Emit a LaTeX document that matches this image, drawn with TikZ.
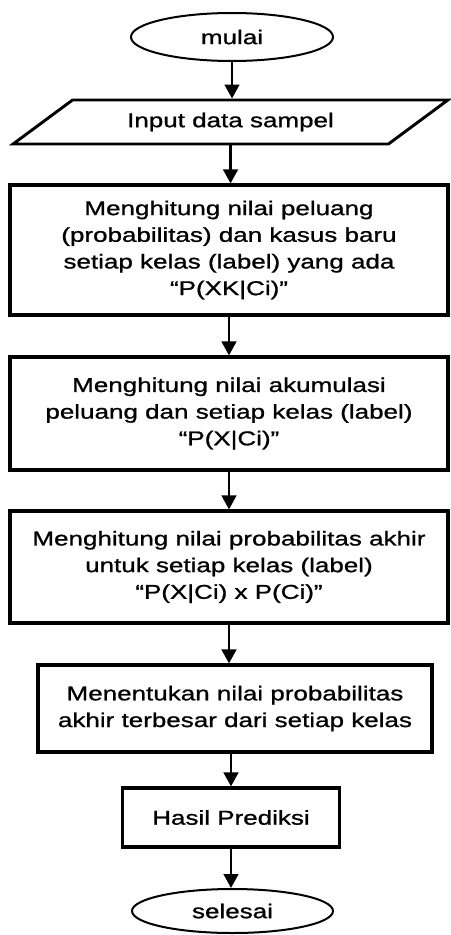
\documentclass[tikz,border=0pt]{standalone}
\usepackage{fontspec}
\setmainfont{Liberation Sans}[FakeStretch=1.3, FakeBold=1]
\usetikzlibrary{shapes.geometric,arrows.meta}

\tikzset{every picture/.style={line width=0.75pt}}
\tikzset{
	terminal/.style={ellipse, draw, line width=1.5pt, inner sep=0pt},
	process/.style={rectangle, draw, line width=2.4pt, align=center, inner sep=0pt},
	io/.style={trapezium, trapezium left angle=25.6, trapezium right angle=154.4, trapezium stretches=true, draw, line width=2.2pt, inner sep=0pt},
	flow/.style={line width=2pt, -{Triangle[width=11pt,length=10.5pt]}},
	every node/.style={font=\fontsize{15}{20}\selectfont},
}

\begin{document}
\begin{tikzpicture}[x=0.75pt,y=0.75pt,yscale=-1,xscale=1]
	%set diagram left start at 0, and has height of 935
	\useasboundingbox (0,0) rectangle (450,935);
	
	%Shape: Ellipse [id:mulai]
	\node (mulai) at (232,37) [terminal, minimum width=151.5pt, minimum height=36pt] {mulai};
	%Shape: Parallelogram [id:input]
	\node (input) at (230.5,122) [io, minimum width=326.25pt, minimum height=33pt] {Input data sampel};
	%Shape: Rectangle [id:peluang]
	\node (peluang) at (229,250) [process, minimum width=328.5pt, minimum height=97.5pt] {Menghitung nilai peluang\\(probabilitas) dan kasus baru\\setiap kelas (label) yang ada\\“P(XK|Ci)”};
	%Shape: Rectangle [id:akumulasi]
	\node (akumulasi) at (229,413.5) [process, minimum width=328.5pt, minimum height=84.75pt] {Menghitung nilai akumulasi\\peluang dan setiap kelas (label)\\“P(X|Ci)”};
	%Shape: Rectangle [id:akhir]
	\node (akhir) at (229,567) [process, minimum width=328.5pt, minimum height=84pt] {Menghitung nilai probabilitas akhir\\untuk setiap kelas (label)\\“P(X|Ci) x P(Ci)”};
	%Shape: Rectangle [id:terbesar]
	\node (terbesar) at (235,708.5) [process, minimum width=295.5pt, minimum height=65.25pt] {Menentukan nilai probabilitas\\akhir terbesar dari setiap kelas};
	%Shape: Rectangle [id:hasil]
	\node (hasil) at (231,817.5) [process, minimum width=162.75pt, minimum height=44.25pt] {Hasil Prediksi};
	%Shape: Ellipse [id:selesai]
	\node (selesai) at (232.5,911) [terminal, minimum width=150.75pt, minimum height=33pt] {selesai};
	
	%Straight Lines
	\draw [flow] (mulai.south) -- (mulai.south |- input.north);
	\draw [flow] (input.south) -- (input.south |- peluang.north);
	\draw [flow] (peluang.south) -- (peluang.south |- akumulasi.north);
	\draw [flow] (akumulasi.south) -- (akumulasi.south |- akhir.north);
	\draw [flow] (akhir.south) -- (akhir.south |- terbesar.north);
	\draw [flow] (hasil.north |- terbesar.south) -- (hasil.north);
	\draw [flow] (hasil.south) -- (hasil.south |- selesai.north);
	
\end{tikzpicture}
\end{document}
